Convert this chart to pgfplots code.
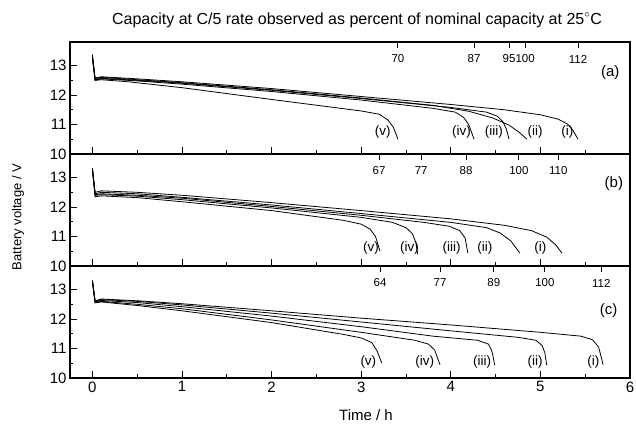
\documentclass[border=0pt]{standalone}
\usepackage{fontspec}
\setmainfont{Liberation Sans}
\usepackage{pgfplots}
\pgfplotsset{compat=1.18}
\newcommand\fs[1]{\fontsize{#1}{#1}\selectfont}

\pgfplotsset{
  panel/.style={
    width=560pt, height=112pt, scale only axis,
    xmin=-0.25, xmax=6, ymin=10, ymax=13.8,
    xtick={0,1,2,3,4,5,6}, minor x tick num=1,
    ytick={10,11,12,13}, minor y tick num=1,
    tick align=inside, xtick pos=left, ytick pos=left,
    major tick length=7pt, minor tick length=3.5pt,
    axis line style={line width=1.1pt},
    every tick/.style={black, line width=0.9pt},
    tick label style={font=\fs{15}},
    /pgf/number format/assume math mode=true,
    every axis plot post/.append style={black, line width=0.8pt, mark=none},
  },
  cap/.style={
    width=560pt, height=112pt, scale only axis,
    xmin=-0.25, xmax=6, ymin=10, ymax=13.8,
    axis x line*=top, axis y line=none,
    tick align=inside, major tick length=6pt,
    every tick/.style={black, line width=0.9pt},
    axis line style={line width=1.1pt},
    xticklabel style={font=\fs{11.5}, anchor=center, yshift=-17pt},
  },
}

\begin{document}
\begin{tikzpicture}
% ---------------- (a)
\begin{axis}[panel, at={(0pt,0pt)}, anchor=north west, xticklabels={}]
\addplot coordinates {(0,13.38) (0.03,12.58) (0.1,12.62) (0.5,12.55) (1,12.45) (2,12.22) (3,11.95) (4,11.68) (4.6,11.5) (5.0,11.33) (5.2,11.18) (5.3,11.02) (5.36,10.82) (5.42,10.5)};
\addplot coordinates {(0,13.3) (0.03,12.55) (0.1,12.6) (0.5,12.52) (1,12.42) (2,12.18) (3,11.9) (3.8,11.65) (4.2,11.45) (4.47,11.22) (4.65,10.98) (4.77,10.72) (4.85,10.5)};
\addplot coordinates {(0,13.3) (0.03,12.52) (0.1,12.57) (0.5,12.5) (1,12.4) (2,12.16) (3,11.88) (4,11.58) (4.4,11.42) (4.52,11.28) (4.58,11.1) (4.62,10.85) (4.65,10.5)};
\addplot coordinates {(0,13.3) (0.03,12.5) (0.1,12.55) (0.5,12.48) (1,12.37) (2,12.12) (3,11.83) (3.8,11.55) (4.05,11.42) (4.14,11.25) (4.2,11.0) (4.26,10.5)};
\addplot coordinates {(0,13.3) (0.03,12.5) (0.1,12.52) (0.4,12.45) (1,12.25) (2,11.85) (3,11.46) (3.2,11.35) (3.3,11.15) (3.36,10.9) (3.41,10.5)};
\node[font=\fs{13.5}] at (axis cs:3.24,10.75) {(v)};
\node[font=\fs{13.5}] at (axis cs:4.12,10.75) {(iv)};
\node[font=\fs{13.5}] at (axis cs:4.48,10.75) {(iii)};
\node[font=\fs{13.5}] at (axis cs:4.94,10.75) {(ii)};
\node[font=\fs{13.5}] at (axis cs:5.30,10.75) {(i)};
\node[font=\fs{15}] at (axis cs:5.78,12.75) {(a)};
\end{axis}
\begin{axis}[cap, at={(0pt,0pt)}, anchor=north west,
  xtick={3.41,4.26,4.65,4.83,5.42}, xticklabels={70,87,95,100,112}]
\end{axis}
% ---------------- (b)
\begin{axis}[panel, at={(0pt,-112pt)}, anchor=north west, xticklabels={}]
\addplot coordinates {(0,13.3) (0.03,12.5) (0.1,12.55) (0.5,12.5) (1,12.4) (2,12.15) (3,11.88) (4,11.6) (4.6,11.38) (4.9,11.2) (5.07,10.98) (5.17,10.72) (5.24,10.44)};
\addplot coordinates {(0,13.3) (0.03,12.45) (0.1,12.5) (0.5,12.45) (1,12.33) (2,12.07) (3,11.78) (4,11.48) (4.4,11.3) (4.55,11.12) (4.67,10.85) (4.77,10.44)};
\addplot coordinates {(0,13.3) (0.03,12.42) (0.1,12.45) (0.5,12.4) (1,12.3) (2,12.02) (3,11.72) (3.7,11.48) (3.98,11.35) (4.1,11.2) (4.16,10.95) (4.19,10.44)};
\addplot coordinates {(0,13.3) (0.03,12.4) (0.1,12.42) (0.5,12.37) (1,12.25) (2,11.97) (3,11.65) (3.35,11.48) (3.5,11.3) (3.57,11.1) (3.61,10.8) (3.63,10.4)};
\addplot coordinates {(0,13.3) (0.03,12.35) (0.1,12.38) (0.5,12.32) (1,12.18) (2,11.88) (2.8,11.55) (3.0,11.42) (3.1,11.25) (3.16,11.0) (3.21,10.5)};
\node[font=\fs{13.5}] at (axis cs:3.11,10.61) {(v)};
\node[font=\fs{13.5}] at (axis cs:3.54,10.61) {(iv)};
\node[font=\fs{13.5}] at (axis cs:4.01,10.61) {(iii)};
\node[font=\fs{13.5}] at (axis cs:4.38,10.61) {(ii)};
\node[font=\fs{13.5}] at (axis cs:5.00,10.61) {(i)};
\node[font=\fs{15}] at (axis cs:5.82,12.79) {(b)};
\end{axis}
\begin{axis}[cap, at={(0pt,-112pt)}, anchor=north west,
  xtick={3.2,3.67,4.17,4.76,5.2}, xticklabels={67,77,88,100,110}]
\end{axis}
% ---------------- (c)
\begin{axis}[panel, at={(0pt,-224pt)}, anchor=north west]
\addplot coordinates {(0,13.3) (0.03,12.62) (0.1,12.68) (0.5,12.62) (1,12.52) (2,12.28) (3,12.03) (4,11.8) (5,11.55) (5.45,11.42) (5.58,11.3) (5.65,11.05) (5.7,10.45)};
\addplot coordinates {(0,13.3) (0.03,12.6) (0.1,12.66) (0.5,12.6) (1,12.48) (2,12.2) (3,11.9) (4,11.6) (4.75,11.38) (4.95,11.28) (5.02,11.1) (5.05,10.85) (5.07,10.44)};
\addplot coordinates {(0,13.3) (0.03,12.58) (0.1,12.63) (0.5,12.56) (1,12.42) (2,12.1) (3,11.74) (3.8,11.42) (4.3,11.28) (4.42,11.15) (4.46,10.9) (4.49,10.44)};
\addplot coordinates {(0,13.3) (0.03,12.56) (0.1,12.6) (0.5,12.5) (1,12.35) (2,11.97) (3,11.55) (3.6,11.28) (3.75,11.15) (3.82,10.95) (3.88,10.44)};
\addplot coordinates {(0,13.3) (0.03,12.55) (0.1,12.58) (0.5,12.46) (1,12.28) (2,11.88) (2.8,11.48) (3.0,11.36) (3.12,11.2) (3.18,10.9) (3.23,10.5)};
\node[font=\fs{13.5}] at (axis cs:3.08,10.54) {(v)};
\node[font=\fs{13.5}] at (axis cs:3.71,10.54) {(iv)};
\node[font=\fs{13.5}] at (axis cs:4.35,10.54) {(iii)};
\node[font=\fs{13.5}] at (axis cs:4.94,10.54) {(ii)};
\node[font=\fs{13.5}] at (axis cs:5.59,10.54) {(i)};
\node[font=\fs{15}] at (axis cs:5.76,12.3) {(c)};
\end{axis}
\begin{axis}[cap, at={(0pt,-224pt)}, anchor=north west,
  xtick={3.21,3.88,4.48,5.05,5.68}, xticklabels={64,77,89,100,112}]
\end{axis}
% ---------------- titles
\node[font=\fs{16}] at (287pt,22pt) {Capacity at C/5 rate observed as percent of nominal capacity at 25$^{\circ}$C};
\node[font=\fs{13}, rotate=90] at (-52pt,-175pt) {Battery voltage / V};
\node[font=\fs{15}] at (296pt,-373pt) {Time / h};
\pgfresetboundingbox
\path (-70pt,42pt) rectangle (566pt,-388pt);
\end{tikzpicture}
\end{document}
